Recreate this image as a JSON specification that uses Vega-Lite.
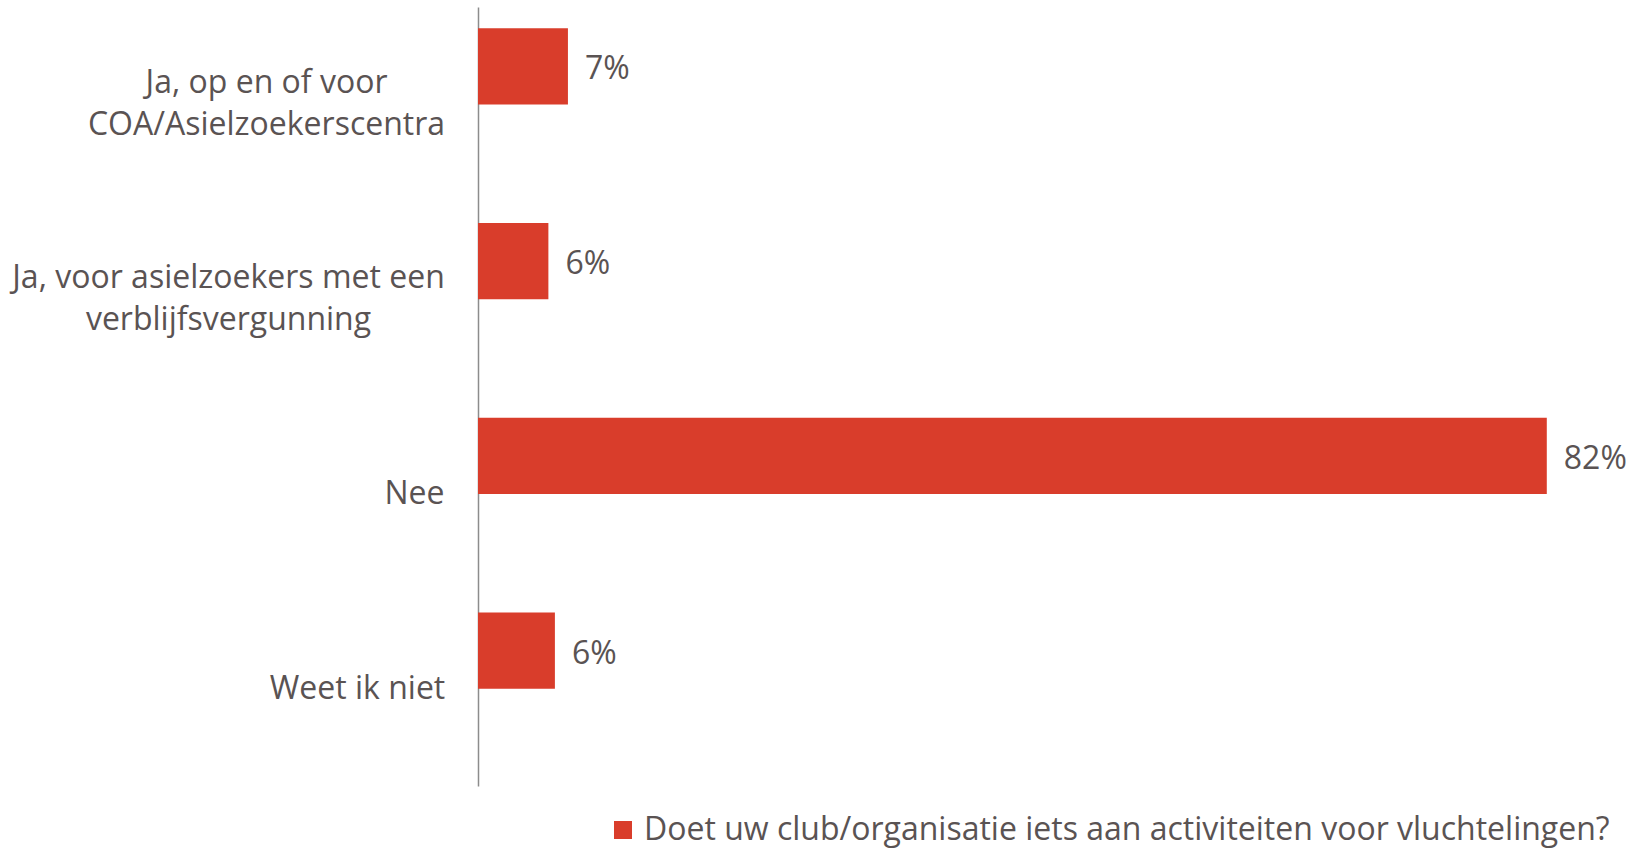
{
  "$schema": "https://vega.github.io/schema/vega-lite/v6.json",
  "autosize": {"type": "none"},
  "width": 1147,
  "height": 779,
  "padding": {"left": 478, "top": 7, "right": 8, "bottom": 63},
  "background": "white",
  "config": {"view": {"stroke": null}, "font": "Open Sans"},
  "data": {
    "values": [
      {"antwoord": "Ja, op en of voor COA/Asielzoekerscentra", "aandeel": 6.9, "label": "7%", "reeks": "Doet uw club/organisatie iets aan activiteiten voor vluchtelingen?"},
      {"antwoord": "Ja, voor asielzoekers met een verblijfsvergunning", "aandeel": 5.4, "label": "6%", "reeks": "Doet uw club/organisatie iets aan activiteiten voor vluchtelingen?"},
      {"antwoord": "Nee", "aandeel": 82, "label": "82%", "reeks": "Doet uw club/organisatie iets aan activiteiten voor vluchtelingen?"},
      {"antwoord": "Weet ik niet", "aandeel": 5.9, "label": "6%", "reeks": "Doet uw club/organisatie iets aan activiteiten voor vluchtelingen?"}
    ]
  },
  "encoding": {
    "y": {
      "field": "antwoord",
      "type": "nominal",
      "sort": null,
      "scale": {"paddingInner": 0, "paddingOuter": 0},
      "axis": {
        "title": null,
        "domain": true,
        "domainColor": "#8c8c8c",
        "domainWidth": 1.5,
        "ticks": false,
        "grid": false,
        "labelFont": "Open Sans",
        "labelFontSize": 32,
        "labelColor": "#5a5353",
        "labelAlign": "center",
        "labelBaseline": "middle",
        "labelLineHeight": 42,
        "labelLimit": 0,
        "labelOffset": {"expr": "(datum.value == 'Nee' || datum.value == 'Weet ik niet') ? 0 : -21"},
        "labelPadding": {"expr": "datum.value == 'Nee' ? 64 : datum.value == 'Weet ik niet' ? 121 : datum.value == 'Ja, op en of voor COA/Asielzoekerscentra' ? 212 : 250"},
        "labelExpr": "datum.value == 'Ja, op en of voor COA/Asielzoekerscentra' ? ['Ja, op en of voor', 'COA/Asielzoekerscentra'] : datum.value == 'Ja, voor asielzoekers met een verblijfsvergunning' ? ['Ja, voor asielzoekers met een', 'verblijfsvergunning'] : datum.value"
      }
    },
    "yOffset": {
      "field": "reeks",
      "type": "nominal",
      "scale": {"domain": ["Doet uw club/organisatie iets aan activiteiten voor vluchtelingen?", "leeg"], "paddingInner": 0, "paddingOuter": 0.28}
    },
    "x": {"field": "aandeel", "type": "quantitative", "scale": {"domain": [0, 88]}, "axis": null}
  },
  "layer": [
    {
      "mark": {"type": "bar"},
      "encoding": {
        "color": {
          "field": "reeks",
          "type": "nominal",
          "scale": {"range": ["#D93D2B"]},
          "legend": {
            "title": null,
            "orient": "none",
            "legendX": 129,
            "legendY": 807,
            "padding": 0,
            "symbolType": "square",
            "symbolSize": 324,
            "symbolStrokeWidth": 0,
            "labelFont": "Open Sans",
            "labelFontSize": 32,
            "labelColor": "#5a5353",
            "labelLimit": 0,
            "labelOffset": 5
          }
        }
      }
    },
    {
      "mark": {"type": "text", "align": "left", "baseline": "middle", "dx": 17, "dy": 3, "font": "Open Sans", "fontSize": 32, "color": "#5a5353"},
      "encoding": {"text": {"field": "label", "type": "nominal"}}
    }
  ]
}
